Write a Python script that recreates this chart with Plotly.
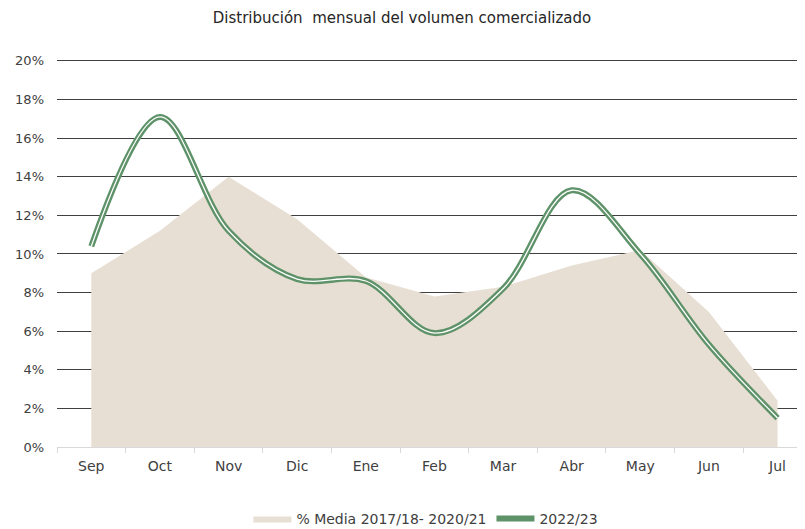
import plotly.graph_objects as go

months = ["Sep", "Oct", "Nov", "Dic", "Ene", "Feb", "Mar", "Abr", "May", "Jun", "Jul"]
media_2017_2021 = [9.0, 11.2, 14.0, 11.8, 8.8, 7.8, 8.3, 9.4, 10.2, 7.0, 2.4]
vol_2022_23 = [10.4, 17.1, 11.2, 8.7, 8.6, 5.9, 8.2, 13.3, 10.0, 5.3, 1.5]
ytick_vals = [0, 2, 4, 6, 8, 10, 12, 14, 16, 18, 20]
ytick_text = ["0%", "2%", "4%", "6%", "8%", "10%", "12%", "14%", "16%", "18%", "20%"]

FONT = "DejaVu Sans"
TXT = "#404040"
H = 529

fig = go.Figure()
fig.add_trace(go.Scatter(
    x=months, y=media_2017_2021, name="% Media 2017/18- 2020/21",
    mode="lines", fill="tozeroy", fillcolor="#e8dfd4",
    line=dict(width=0, color="#e8dfd4"), hoverinfo="skip",
))
fig.add_trace(go.Scatter(
    x=months, y=vol_2022_23, name="2022/23",
    mode="lines", line=dict(color="#5e9268", width=6, shape="spline", smoothing=1.0),
))
fig.add_trace(go.Scatter(
    x=months, y=vol_2022_23, name="2022/23", showlegend=False,
    mode="lines", line=dict(color="white", width=1.3, shape="spline", smoothing=1.0),
    hoverinfo="skip",
))

fig.update_layout(
    width=805, height=H,
    margin=dict(l=49, r=8, t=51, b=90, autoexpand=False),
    paper_bgcolor="white", plot_bgcolor="white",
    font=dict(family=FONT, size=13, color=TXT),
    title=dict(text="Distribución  mensual del volumen comercializado",
               x=(402 - 8) / 805, xanchor="center", y=1 - 10 / H, yref="container",
               yanchor="middle",
               font=dict(family=FONT, size=15, color="#262626")),
    legend=dict(orientation="h", x=(405 - 8) / 805, xanchor="center", y=1 - 511 / H,
                yref="container", yanchor="middle",
                font=dict(family=FONT, size=14, color=TXT), itemwidth=38),
    xaxis=dict(type="category", range=[-0.5, 10.4], showgrid=False, automargin=False,
               showline=True, linecolor="#d9d9d9", linewidth=1,
               ticks="outside", tickson="boundaries", ticklen=5, tickcolor="#d9d9d9",
               ticklabelstandoff=6,
               tickfont=dict(family=FONT, size=14, color=TXT)),
    yaxis=dict(range=[0, 20.1], tickvals=ytick_vals, ticktext=ytick_text, automargin=False,
               showgrid=True, gridcolor="#404040", gridwidth=1.3,
               zeroline=False, showline=False, ticks="", ticklabelstandoff=12,
               tickfont=dict(family=FONT, size=13, color=TXT)),
)

fig.write_html("out.html")
